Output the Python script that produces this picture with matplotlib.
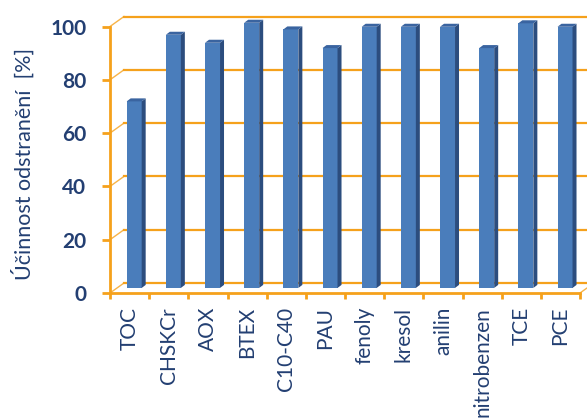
import matplotlib
matplotlib.use("Agg")
import matplotlib.pyplot as plt
import numpy as np

categories = ["TOC", "CHSKCr", "AOX", "BTEX", "C10-C40", "PAU", "fenoly",
              "kresol", "anilin", "nitrobenzen", "TCE", "PCE"]
values = [70, 95, 92, 99.5, 97, 90, 98, 98, 98, 90, 99.3, 98]
yticks = [0, 20, 40, 60, 80, 100]

orange = "#F5A11C"
navy = "#233F72"
front_c = "#4A7DBB"
side_c = "#2C4D7E"
top_c = "#3A64A0"

plt.rcParams['font.family'] = ['Lato', 'DejaVu Sans']

fig = plt.figure(figsize=(5.87, 4.19), dpi=100)
ax = fig.add_axes([110/587, 1-293/419, 470/587, 266.5/419])
ax.set_xlim(0, 12)
ax.set_ylim(0, 100)

# pseudo 3d offsets (data units)
wx, wy = 0.357, 3.75     # back wall
bx0, bw = 0.426, 0.383   # bar front face start / width in category
sx, sy = 0.102, 1.13     # bar side depth
base = 1.9               # bar front sits a bit above the front floor

# back wall gridlines + diagonals
for v in yticks:
    ax.plot([wx, 12 + wx + 1], [v + wy, v + wy], color=orange, lw=1.6,
            clip_on=False, zorder=1)
    ax.plot([0, wx], [v, v + wy], color=orange, lw=1.0, alpha=0.8,
            clip_on=False, zorder=1)
ax.plot([12, 12 + wx], [0, wy], color=orange, lw=1.0, alpha=0.8,
        clip_on=False, zorder=1)

# bars
x = np.arange(len(categories))
left = x + bx0
ax.bar(left, values, width=bw, bottom=base, align="edge", color=front_c,
       zorder=3, clip_on=False)
for l, v in zip(left, values):
    r = l + bw
    t = base + v
    ax.fill([r, r + sx, r + sx, r], [base, base + sy, t + sy, t],
            color=side_c, zorder=3, clip_on=False, lw=0)
    ax.fill([l, r, r + sx, l + sx], [t, t, t + sy, t + sy],
            color=top_c, zorder=3, clip_on=False, lw=0)

# axes
for s in ["top", "right"]:
    ax.spines[s].set_visible(False)
for s in ["left", "bottom"]:
    ax.spines[s].set_color(orange)
    ax.spines[s].set_linewidth(2.0)
    ax.spines[s].set_zorder(4)

ax.set_yticks(yticks)
ax.set_yticklabels([str(v) for v in yticks], fontsize=15, fontweight="bold",
                   color=navy)
ax.tick_params(axis="y", length=6, width=2, color=orange, pad=11)

ax.set_xticks(x + 0.5)
ax.set_xticklabels(categories, rotation=90, fontsize=15, color=navy)
ax.set_xticks(np.arange(13), minor=True)
ax.tick_params(axis="x", which="major", length=0, pad=10)
ax.tick_params(axis="x", which="minor", length=4, width=2, color=orange)

fig.text(23/587, 1-164/419, "Účinnost odstranění  [%]", rotation=90,
         ha="center", va="center", fontsize=15.5, color=navy)

fig.savefig("out.png", dpi=100, facecolor="white")
